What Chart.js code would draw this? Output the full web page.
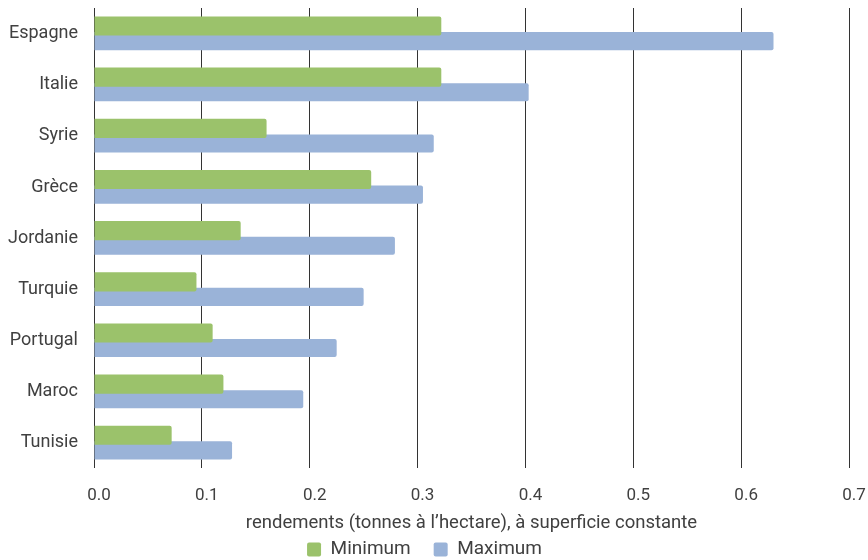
<!DOCTYPE html>
<html>
<head>
<meta charset="utf-8">
<script src="https://cdn.jsdelivr.net/npm/chart.js@4"></script>
<style>
  html, body { margin: 0; padding: 0; background: #fff; }
  #wrap { width: 868px; height: 560px; }
</style>
</head>
<body>
<div id="wrap"><canvas id="chart"></canvas></div>
<script>
// Data
const countries = ['Espagne', 'Italie', 'Syrie', 'Grèce', 'Jordanie', 'Turquie', 'Portugal', 'Maroc', 'Tunisie'];
const minimum = [0.322, 0.322, 0.160, 0.257, 0.136, 0.095, 0.110, 0.120, 0.072];
const maximum = [0.630, 0.403, 0.315, 0.305, 0.279, 0.250, 0.225, 0.194, 0.128];
const xTicks = [0, 0.1, 0.2, 0.3, 0.4, 0.5, 0.6, 0.7];

const textColor = '#404040';
Chart.defaults.font.family = 'Roboto, "Liberation Sans", sans-serif';
Chart.defaults.font.size = 17;
Chart.defaults.color = textColor;

// drop the half-label padding the axes add, positions come from layout.padding
function noAxisPadding(axis) {
    axis.paddingTop = 0;
    axis.paddingBottom = 0;
    axis.paddingLeft = 0;
    axis.paddingRight = 0;
}

const ctx = document.getElementById('chart').getContext('2d');
new Chart(ctx, {
    type: 'bar',
    data: {
        labels: countries,
        datasets: [
            {
                label: 'Minimum',
                data: minimum,
                backgroundColor: '#9bc26b',
                borderRadius: 2,
                borderSkipped: 'start',
                categoryPercentage: 0.59,
                barPercentage: 1.27
            },
            {
                label: 'Maximum',
                data: maximum,
                backgroundColor: '#9ab3d8',
                borderRadius: 2,
                borderSkipped: 'start',
                categoryPercentage: 0.59,
                barPercentage: 1.2
            }
        ]
    },
    options: {
        indexAxis: 'y',
        responsive: true,
        maintainAspectRatio: false,
        animation: false,
        layout: {
            padding: { top: 8, right: 19, left: 0, bottom: -9 }
        },
        scales: {
            x: {
                min: 0,
                max: 0.7,
                afterBuildTicks: axis => {
                    axis.ticks = xTicks.map(v => ({ value: v }));
                },
                afterFit: noAxisPadding,
                ticks: {
                    padding: 17,
                    labelOffset: 5,
                    callback: v => Number(v).toFixed(1)
                },
                grid: {
                    color: '#333',
                    lineWidth: 1,
                    drawTicks: false
                },
                border: { display: false },
                title: {
                    display: true,
                    text: 'rendements (tonnes à l’hectare), à superficie constante',
                    font: { size: 18.5 },
                    // legend padding is wide (gap between items), overlap its top part
                    padding: { top: -11, bottom: -17 }
                }
            },
            y: {
                afterFit: axis => {
                    noAxisPadding(axis);
                    axis.width = 94;
                },
                grid: { display: false, drawTicks: false },
                border: { display: false },
                ticks: { padding: 16, font: { size: 18 } }
            }
        },
        plugins: {
            legend: {
                position: 'bottom',
                labels: {
                    boxWidth: 14,
                    boxHeight: 14,
                    useBorderRadius: true,
                    borderRadius: 2,
                    padding: 23,
                    font: { size: 19 }
                }
            },
            tooltip: { enabled: false }
        }
    }
});
</script>
</body>
</html>
